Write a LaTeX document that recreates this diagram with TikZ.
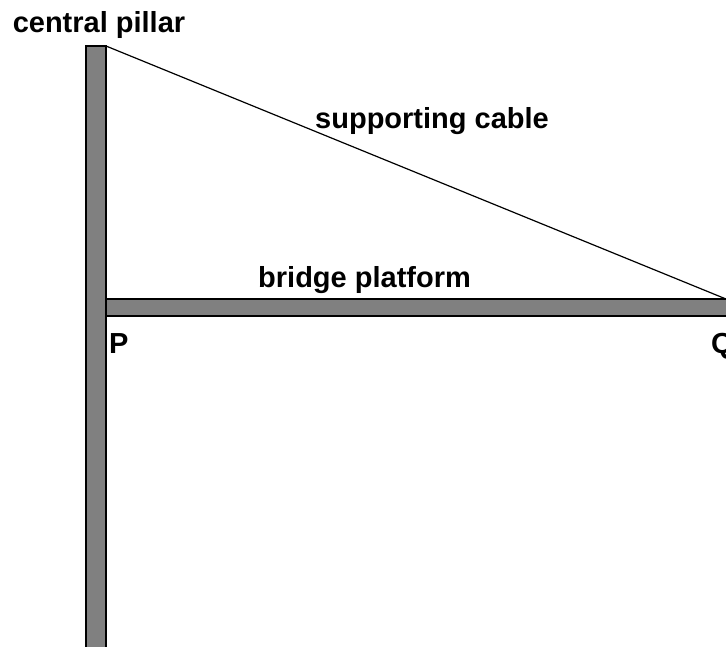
\documentclass[tikz,border=0pt]{standalone}
\usepackage{fontspec}
\setmainfont{Liberation Sans}
\usetikzlibrary{positioning}

\begin{document}
\begin{tikzpicture}[x = 1pt, y = -1pt]
      \tikzset{beam/.style = {draw = black, fill = gray, line width = 1.5pt},
      cable/.style = {draw = black, line width = 1.2pt},
      lbl/.style = {inner sep = 0pt, font = \bfseries\fontsize{29}{31}\selectfont}}
      \useasboundingbox (0,0) rectangle (726,646);
      % pillar and platform
      \draw[beam] (86,46) rectangle (106,660);
      \draw[beam] (106,299) rectangle (740,316);
      \coordinate (top) at (106,46);
      \coordinate (end) at (726,299);
      \draw[cable] (top) -- (end);
      % labels
      \node[lbl, anchor = base] (pillar) at (99,32) {central pillar};
      \node[lbl, anchor = base west] (cable) at (315,128) {supporting cable};
      \node[lbl, anchor = base west] (platform) at (258,287) {bridge platform};
      \node[lbl, anchor = base west] (P) at (109,353) {P};
      \node[lbl, anchor = base west] (Q) at (711,353) {Q};
\end{tikzpicture}
\end{document}
